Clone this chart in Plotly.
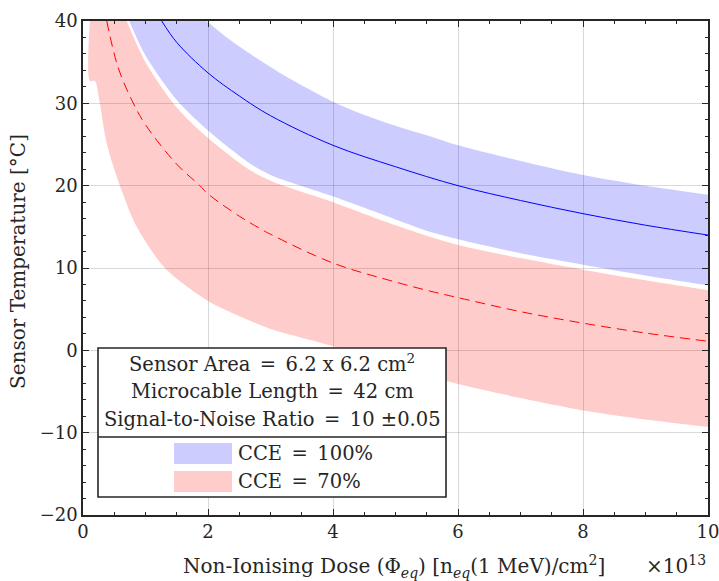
import plotly.graph_objects as go

# ---- data (dose in units of 1e13 n_eq/cm^2, temperature in degC)
dose_blue_mid = [1.26, 1.5, 2, 2.5, 3, 4, 5, 6, 7, 8, 9, 10]
temp_blue_mid = [40, 37.4, 33.7, 30.9, 28.5, 24.9, 22.3, 20.0, 18.2, 16.6, 15.2, 14.0]

dose_blue_up = [1.98, 2.3, 2.62, 3.0, 3.26, 4, 4.43, 5.07, 5.55, 6, 7, 8, 9, 10]
temp_blue_up = [40, 38.0, 36.3, 34.4, 33.2, 30.2, 28.8, 27.1, 26.0, 24.9, 23.0, 21.3, 20.0, 18.9]

dose_blue_lo = [0.74, 1.0, 1.5, 2, 2.67, 3, 4, 5, 5.55, 6, 7, 8, 9, 10]
temp_blue_lo = [40, 35.8, 30.4, 26.7, 22.7, 21.3, 18.7, 15.9, 14.4, 13.5, 11.8, 10.4, 9.1, 7.9]

dose_red_mid = [0.38, 0.56, 0.78, 1.0, 1.5, 1.87, 2, 2.5, 2.83, 3, 4, 5, 5.55, 6, 7, 8, 9, 10]
temp_red_mid = [40, 34.4, 30.4, 27.4, 22.6, 20.0, 19.0, 16.3, 14.8, 14.1, 10.6, 8.3, 7.2, 6.4, 4.7, 3.3, 2.1, 1.1]

dose_red_up = [0.70, 1.0, 1.5, 2, 2.67, 3, 4, 5, 5.55, 6, 7, 8, 9, 10]
temp_red_up = [40, 35.0, 29.5, 25.8, 21.9, 20.6, 18.0, 15.2, 13.8, 12.8, 11.2, 9.8, 8.5, 7.3]

dose_red_lo = [0.11, 0.11, 0.19, 0.26, 0.38, 0.59, 0.86, 1.31, 2, 2.67, 3, 4, 5, 6, 7, 8, 9, 10]
temp_red_lo = [40, 32.7, 32.7, 30.4, 25.1, 20.0, 15.0, 10.0, 6.0, 3.6, 2.6, 0.5, -2.0, -4.1, -5.8, -7.3, -8.4, -9.3]

info_lines = ["Sensor Area = 6.2 x 6.2 cm<sup>2</sup>",
              "Microcable Length = 42 cm",
              "Signal-to-Noise Ratio = 10 ±0.05"]
legend_labels = ["CCE = 100%", "CCE = 70%"]
x_ticks = [0, 2, 4, 6, 8, 10]
y_ticks = [-20, -10, 0, 10, 20, 30, 40]

BLUE_FILL = "rgba(0,0,255,0.2)"
RED_FILL = "rgba(255,0,0,0.2)"
FONT = "DejaVu Serif"
FS_TICK = 18
FS_BOX = 19.5
FS_TITLE = 20
TXT = "#262626"

W, H = 719, 581
L, R, T, B = 83, 708, 21, 515


def px(xp):
    return (xp - L) / (R - L)


def py(yp):
    return (B - yp) / (B - T)


def mathify(s):
    # wider, symmetric spacing around '=' as in LaTeX math mode
    return s.replace(" = ", " \u2006=\u2006 ")


fig = go.Figure()

band_line = dict(width=0, shape="spline", smoothing=0.8)
fig.add_trace(go.Scatter(x=dose_red_lo, y=temp_red_lo, mode="lines", line=band_line,
                         hoverinfo="skip", showlegend=False))
fig.add_trace(go.Scatter(x=dose_red_up, y=temp_red_up, mode="lines", line=band_line,
                         fill="tonexty", fillcolor=RED_FILL, hoverinfo="skip", showlegend=False))
fig.add_trace(go.Scatter(x=dose_blue_lo, y=temp_blue_lo, mode="lines", line=band_line,
                         hoverinfo="skip", showlegend=False))
fig.add_trace(go.Scatter(x=dose_blue_up, y=temp_blue_up, mode="lines", line=band_line,
                         fill="tonexty", fillcolor=BLUE_FILL, hoverinfo="skip", showlegend=False))
fig.add_trace(go.Scatter(
    x=dose_blue_mid, y=temp_blue_mid, mode="lines",
    line=dict(color="rgb(0,0,255)", width=1, shape="spline"), showlegend=False))
fig.add_trace(go.Scatter(
    x=dose_red_mid, y=temp_red_mid, mode="lines",
    line=dict(color="rgb(255,0,0)", width=1, dash="10px,6px", shape="spline"),
    showlegend=False))

axis_common = dict(
    showline=True, linewidth=1.5, linecolor=TXT, mirror="allticks",
    ticks="inside", ticklen=6, tickwidth=1.2, tickcolor=TXT,
    showgrid=True, gridcolor="rgba(0,0,0,0.15)", gridwidth=1,
    zeroline=False, automargin=False, ticklabeloverflow="allow",
    tickfont=dict(family=FONT, size=FS_TICK, color=TXT),
)

fig.update_xaxes(range=[0, 10], tickvals=x_ticks,
                 minor=dict(dtick=0.5, ticks="inside", ticklen=3, tickcolor=TXT, showgrid=False),
                 **axis_common)
fig.update_yaxes(range=[-20, 40], tickvals=y_ticks,
                 minor=dict(dtick=2, ticks="inside", ticklen=3, tickcolor=TXT, showgrid=False),
                 **axis_common)

shapes = []
bx0, bx1, by0, by1, bsep = 98, 446, 348, 497, 437
shapes.append(dict(type="rect", xref="paper", yref="paper", x0=px(bx0), x1=px(bx1),
                   y0=py(by1), y1=py(by0), fillcolor="white", line=dict(color=TXT, width=1.6), layer="above"))
shapes.append(dict(type="line", xref="paper", yref="paper", x0=px(bx0), x1=px(bx1),
                   y0=py(bsep), y1=py(bsep), line=dict(color=TXT, width=1.6), layer="above"))
for (y0s, y1s), col in zip([(443, 464), (471, 492)], [BLUE_FILL, RED_FILL]):
    shapes.append(dict(type="rect", xref="paper", yref="paper", x0=px(174), x1=px(232),
                       y0=py(y1s), y1=py(y0s), fillcolor=col, line=dict(width=0), layer="above"))

annotations = []
for txt, yy in zip(info_lines, [363, 391, 419]):
    annotations.append(dict(text=mathify(txt), xref="paper", yref="paper", x=px((bx0 + bx1) / 2), y=py(yy),
                            showarrow=False, xanchor="center", yanchor="middle",
                            font=dict(family=FONT, size=FS_BOX, color=TXT)))
for txt, yy in zip(legend_labels, [453, 481]):
    annotations.append(dict(text=mathify(txt), xref="paper", yref="paper", x=px(236), y=py(yy),
                            showarrow=False, xanchor="left", yanchor="middle",
                            font=dict(family=FONT, size=FS_BOX, color=TXT)))
annotations.append(dict(text="Non-Ionising Dose (Φ<sub><i>eq</i></sub>) [n<sub><i>eq</i></sub>(1 MeV)/cm<sup>2</sup>]",
                        xref="paper", yref="paper", x=px(394), y=py(566), showarrow=False,
                        xanchor="center", yanchor="middle", font=dict(family=FONT, size=FS_TITLE, color=TXT)))
annotations.append(dict(text="×10<sup>13</sup>", xref="paper", yref="paper", x=px(708), y=py(565),
                        showarrow=False, xanchor="right", yanchor="middle",
                        font=dict(family=FONT, size=FS_TITLE, color=TXT)))
annotations.append(dict(text="Sensor Temperature [°C]", xref="paper", yref="paper", x=px(18), y=py(262),
                        showarrow=False, xanchor="center", yanchor="middle", textangle=-90,
                        font=dict(family=FONT, size=FS_TITLE, color=TXT)))

fig.update_layout(
    width=W, height=H, margin=dict(l=L, r=W - R, t=T, b=H - B),
    plot_bgcolor="white", paper_bgcolor="white",
    shapes=shapes, annotations=annotations, showlegend=False,
)

fig.write_html("out.html")
